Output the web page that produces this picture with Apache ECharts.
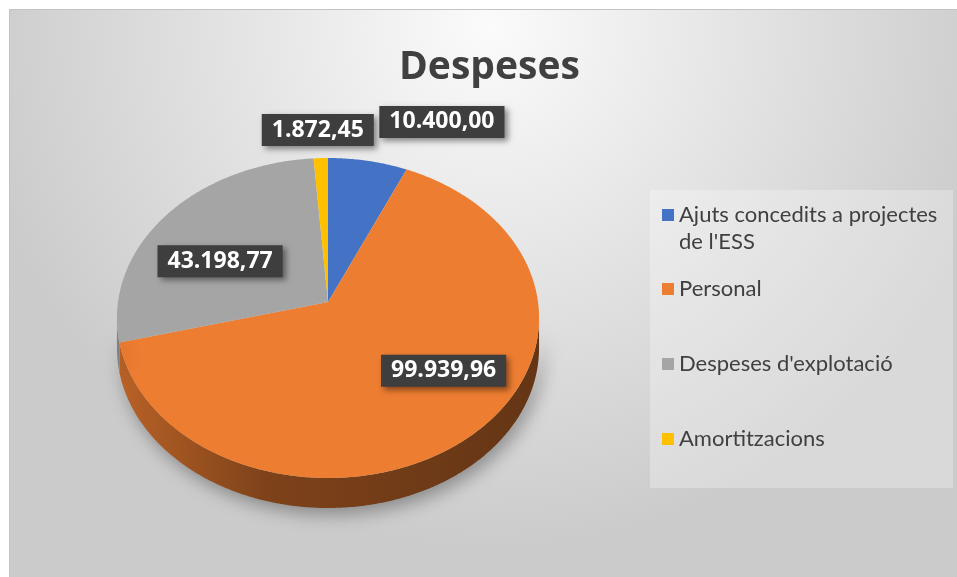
<!DOCTYPE html>
<html>
<head>
<meta charset="utf-8">
<script src="https://cdn.jsdelivr.net/npm/echarts@6/dist/echarts.min.js"></script>
<style>
  html, body { margin: 0; padding: 0; background: #fff; }
  #chart { width: 957px; height: 577px; }
</style>
</head>
<body>
<div id="chart"></div>
<script>
const chartTitle = 'Despeses';
const categories = ["Ajuts concedits a projectes de l'ESS", 'Personal', "Despeses d'explotació", 'Amortitzacions'];
const values = [10400.00, 99939.96, 43198.77, 1872.45];
const colors = ['#4472C4', '#ED7D31', '#A5A5A5', '#FFC000'];

// 3D pie look (Excel style): projected circle with a little perspective
const pie = { cx: 328, cy: 302, rx: 210, ry: 158.4, persp: 0.1, depth: 30 };
// [radius factor, dx, dy] for each data label
const labelNudge = [[1.0, 74, -39], [0.65, 23, -14], [0.65, -1, 17], [1.0, -3, -28]];
const legendTops = [174.5, 275.5, 350.5, 425.5];

const total = values.reduce((a, b) => a + b, 0);
const sliceData = [];
let acc = 0;
values.forEach(v => {
  const a = acc / total * Math.PI * 2;
  acc += v;
  sliceData.push([a, acc / total * Math.PI * 2, v]);
});

const fmt = v => {
  const [i, d] = v.toFixed(2).split('.');
  return i.replace(/\B(?=(\d{3})+(?!\d))/g, '.') + ',' + d;
};

const shade = (color, f) => {
  const c = echarts.color.parse(color);
  return 'rgb(' + Math.round(c[0] * f) + ',' + Math.round(c[1] * f) + ',' + Math.round(c[2] * f) + ')';
};

const project = (f, t) => {
  const X = f * Math.sin(t), Z = f * Math.cos(t);
  const s = 1 + pie.persp * Z;
  return [pie.cx + pie.rx * X / s, pie.cy - pie.ry * Z / s];
};

const arc = (a, b, dy) => {
  const pts = [];
  const n = Math.max(2, Math.ceil((b - a) / 0.01));
  for (let k = 0; k <= n; k++) {
    const p = project(1, a + (b - a) * k / n);
    pts.push([p[0], p[1] + dy]);
  }
  return pts;
};

const renderSlice = (params, api) => {
  const i = params.seriesIndex;
  const a = api.value(0), b = api.value(1), v = api.value(2);
  const color = api.visual('color');
  const children = [];

  // front rim (only the part the viewer can see)
  const t0 = Math.acos(-pie.persp), t1 = 2 * Math.PI - t0;
  const sa = Math.max(a, t0), sb = Math.min(b, t1);
  if (sb > sa) {
    const top = arc(sa, sb, 0);
    const bottom = arc(sa, sb, pie.depth).reverse();
    children.push({
      type: 'polygon',
      shape: { points: top.concat(bottom) },
      style: {
        fill: new echarts.graphic.LinearGradient(pie.cx - pie.rx, 0, pie.cx + pie.rx, 0, [
          { offset: 0, color: shade(color, 0.78) },
          { offset: 0.35, color: shade(color, 0.53) },
          { offset: 1, color: shade(color, 0.42) }
        ], true),
        shadowBlur: 18,
        shadowColor: 'rgba(0,0,0,0.35)',
        shadowOffsetX: 4,
        shadowOffsetY: 6
      }
    });
  }

  // top face
  children.push({
    type: 'polygon',
    shape: { points: [[pie.cx, pie.cy]].concat(arc(a, b, 0)) },
    style: { fill: color }
  });

  // data label
  const nd = labelNudge[i];
  const p = project(nd[0], (a + b) / 2);
  children.push({
    type: 'text',
    x: p[0] + nd[1],
    y: p[1] + nd[2],
    z2: 10,
    style: {
      text: fmt(v),
      fill: '#ffffff',
      fontFamily: '"Open Sans", sans-serif',
      fontWeight: 'bold',
      fontSize: 23,
      align: 'center',
      verticalAlign: 'middle',
      backgroundColor: '#3e3e3e',
      padding: [5, 10, 4, 10],
      shadowBlur: 6,
      shadowColor: 'rgba(0,0,0,0.45)',
      shadowOffsetX: 3,
      shadowOffsetY: 3
    }
  });

  return { type: 'group', children };
};

const chart = echarts.init(document.getElementById('chart'));

chart.setOption({
  animation: false,
  color: colors,
  graphic: [
    {
      type: 'rect',
      z: -10,
      shape: { x: 9.5, y: 9.5, width: 960, height: 580 },
      style: {
        fill: {
          type: 'radial', x: 0.5, y: 0.03, r: 0.9,
          colorStops: [
            { offset: 0, color: '#fbfbfb' },
            { offset: 1, color: '#cbcbcb' }
          ]
        },
        stroke: '#c4c4c4',
        lineWidth: 1
      }
    },
    {
      type: 'rect',
      z: -9,
      shape: { x: 650, y: 190, width: 303, height: 298 },
      style: { fill: 'rgba(255,255,255,0.28)' }
    }
  ],
  title: {
    text: chartTitle,
    left: 394,
    top: 43,
    padding: 5,
    textStyle: {
      fontFamily: '"Open Sans", sans-serif',
      fontWeight: 'bold',
      fontSize: 39,
      color: '#404040'
    }
  },
  legend: categories.map((c, i) => ({
    data: [c],
    left: 662,
    top: legendTops[i],
    padding: 0,
    icon: 'rect',
    itemWidth: 12,
    itemHeight: 12,
    selectedMode: false,
    // first entry wraps onto two lines; a blank lead line keeps the marker on line one
    formatter: n => n.includes(' de ') ? ' \n' + n.replace(' de ', '\nde ') : n,
    textStyle: {
      fontFamily: 'Lato, sans-serif',
      fontSize: 22,
      color: '#404040',
      lineHeight: 27
    }
  })),
  series: categories.map((c, i) => ({
    name: c,
    type: 'custom',
    coordinateSystem: 'none',
    renderItem: renderSlice,
    data: [sliceData[i]]
  }))
});
</script>
</body>
</html>
